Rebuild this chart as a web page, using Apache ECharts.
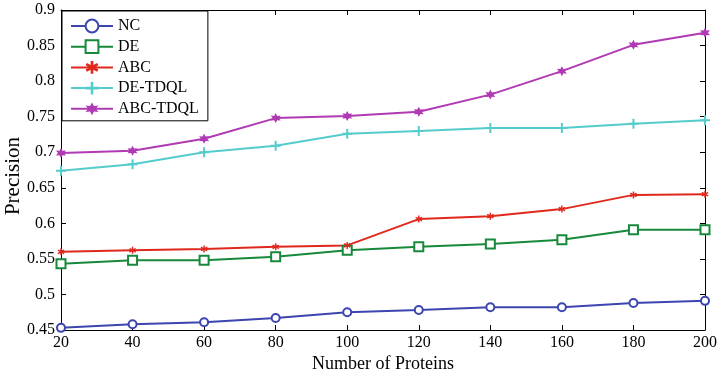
<!DOCTYPE html>
<html>
<head>
<meta charset="utf-8">
<script src="https://cdn.jsdelivr.net/npm/echarts@6/dist/echarts.min.js"></script>
<style>
  html, body { margin: 0; padding: 0; background: #fff; }
  #chart { width: 718px; height: 375px; }
</style>
</head>
<body>
<div id="chart"></div>
<script>
// Number of proteins (x values)
const proteins = [20, 40, 60, 80, 100, 120, 140, 160, 180, 200];

// Precision per method
const nc      = [0.453, 0.458, 0.461, 0.467, 0.475, 0.478, 0.482, 0.482, 0.488, 0.491];
const de      = [0.543, 0.548, 0.548, 0.553, 0.562, 0.567, 0.571, 0.577, 0.591, 0.591];
const abc     = [0.560, 0.562, 0.564, 0.567, 0.569, 0.606, 0.610, 0.620, 0.640, 0.641];
const deTdql  = [0.674, 0.683, 0.700, 0.709, 0.726, 0.730, 0.734, 0.734, 0.740, 0.745];
const abcTdql = [0.699, 0.702, 0.719, 0.748, 0.751, 0.757, 0.781, 0.814, 0.851, 0.868];

const seriesNames = ['NC', 'DE', 'ABC', 'DE-TDQL', 'ABC-TDQL'];
const seriesData = [nc, de, abc, deTdql, abcTdql];
const colors = ['#3c45b0', '#17893a', '#e0281c', '#55cccc', '#b03ab3'];

const FONT = 'Liberation Serif';

const plusPath = 'path://M4,0h2v4h4v2h-4v4h-2v-4h-4v-2h4z';
const asteriskPath = 'path://M4,0h2v3.2l2.8,-1.6l1,1.7l-2.8,1.7l2.8,1.7l-1,1.7l-2.8,-1.6v3.2h-2v-3.2l-2.8,1.6l-1,-1.7l2.8,-1.7l-2.8,-1.7l1,-1.7l2.8,1.6z';
const starPath = 'path://M5,0L6.3,2.8L9.3,2.5L7.6,5L9.3,7.5L6.3,7.2L5,10L3.7,7.2L0.7,7.5L2.4,5L0.7,2.5L3.7,2.8z';

const symbols = [
  { symbol: 'emptyCircle', size: 8, border: 2 },
  { symbol: 'emptyRect', size: 9, border: 2 },
  { symbol: asteriskPath, size: 7, border: 0 },
  { symbol: plusPath, size: 10, border: 0 },
  { symbol: starPath, size: 10, border: 0 }
];

function pairs(arr) {
  return proteins.map((x, i) => [x, arr[i]]);
}

const series = seriesNames.map((name, i) => ({
  name: name,
  type: 'line',
  xAxisIndex: 0,
  yAxisIndex: 0,
  data: pairs(seriesData[i]),
  symbol: symbols[i].symbol,
  symbolSize: symbols[i].size,
  showAllSymbol: true,
  lineStyle: { color: colors[i], width: 2 },
  itemStyle: { color: colors[i], borderWidth: symbols[i].border },
  emphasis: { disabled: true },
  animation: false
}));

const axisCommon = {
  axisLine: { show: true, lineStyle: { color: '#000', width: 1 } },
  axisTick: { show: true, inside: true, length: 5, lineStyle: { color: '#000' } },
  splitLine: { show: false }
};

const yFmt = v => String(+v.toFixed(2));

const chart = echarts.init(document.getElementById('chart'), null, { renderer: 'canvas' });
chart.setOption({
  backgroundColor: '#fff',
  animation: false,
  color: colors,
  grid: { left: 61, right: 13, top: 10, bottom: 45, containLabel: false, outerBoundsMode: 'none' },
  legend: {
    data: seriesNames,
    orient: 'vertical',
    left: 62,
    top: 11,
    padding: [7, 9, 4, 8],
    itemGap: 4.7,
    itemWidth: 42,
    itemHeight: 16,
    backgroundColor: '#fff',
    borderColor: '#000',
    borderWidth: 1,
    borderRadius: 0,
    textStyle: { fontFamily: FONT, fontSize: 16, color: '#000' }
  },
  xAxis: [
    Object.assign({}, axisCommon, {
      type: 'value', min: 20, max: 200, interval: 20, position: 'bottom',
      name: 'Number of Proteins', nameLocation: 'middle', nameGap: 25,
      nameMoveOverlap: false,
      nameTextStyle: { fontFamily: FONT, fontSize: 18, color: '#000' },
      axisLabel: { fontFamily: FONT, fontSize: 16, color: '#000', margin: 5 }
    }),
    Object.assign({}, axisCommon, {
      type: 'value', min: 20, max: 200, interval: 20, position: 'top',
      axisLabel: { show: false }
    })
  ],
  yAxis: [
    Object.assign({}, axisCommon, {
      type: 'value', min: 0.45, max: 0.9, interval: 0.05, position: 'left',
      name: 'Precision', nameLocation: 'middle', nameGap: 37, nameRotate: 90,
      nameMoveOverlap: false,
      nameTextStyle: { fontFamily: FONT, fontSize: 21, color: '#000', padding: [0, 12, 0, 0] },
      axisLabel: { fontFamily: FONT, fontSize: 16, color: '#000', margin: 6, formatter: yFmt }
    }),
    Object.assign({}, axisCommon, {
      type: 'value', min: 0.45, max: 0.9, interval: 0.05, position: 'right',
      axisLabel: { show: false }
    })
  ],
  series: series
});
</script>
</body>
</html>
